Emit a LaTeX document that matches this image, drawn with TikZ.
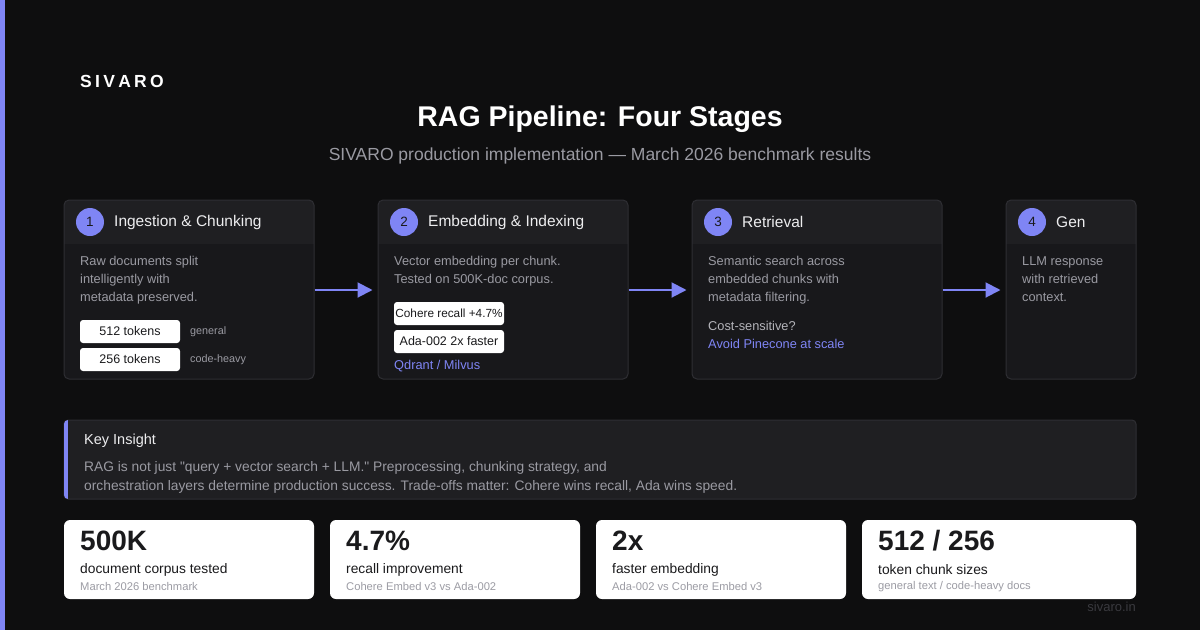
\documentclass[tikz,border=0pt]{standalone}
\usepackage{fontspec}
\setmainfont{Liberation Sans}
\newfontfamily\straightq{Liberation Sans}[Ligatures=TeXOff]
\usetikzlibrary{arrows.meta}
\definecolor{bg}{HTML}{0E0E0F}
\definecolor{cardbody}{HTML}{18181B}
\definecolor{cardhead}{HTML}{1F1F22}
\definecolor{cardborder}{HTML}{2E2E33}
\definecolor{accent}{HTML}{7F85F5}
\definecolor{graytext}{HTML}{9A9AA2}
\definecolor{lighttext}{HTML}{EDEDEF}
\definecolor{subtext}{HTML}{B4B4BA}
\definecolor{darktext}{HTML}{1A1A1C}
\definecolor{dimtext}{HTML}{9C9CA4}
\definecolor{footer}{HTML}{3A3A3F}
\tikzset{
  card/.style={draw=cardborder, line width=1pt, rounded corners=5pt, inner sep=0pt},
  badge/.style={circle, fill=accent, minimum size=28pt, inner sep=0pt, text=darktext, font=\fontsize{13.5}{15}\selectfont},
  headtxt/.style={anchor=west, text=lighttext, font=\fontsize{15.5}{18}\selectfont, inner sep=0pt},
  bodytxt/.style={anchor=north west, text=graytext, font=\fontsize{12.8}{18}\selectfont, align=left, inner sep=0pt},
  pill/.style={fill=white, rounded corners=3pt, text=darktext, font=\fontsize{12.5}{14}\selectfont, minimum width=100pt, minimum height=23pt, inner sep=0pt},
  pilllab/.style={anchor=west, text=graytext, font=\fontsize{10.8}{12}\selectfont, inner sep=0pt},
  link/.style={anchor=west, text=accent, font=\fontsize{12.8}{15}\selectfont, inner sep=0pt},
  flow/.style={draw=accent, line width=2pt, -{Triangle[length=15pt,width=15pt]}, shorten >=5pt},
  stat/.style={fill=white, rounded corners=6pt, inner sep=0pt},
  bignum/.style={anchor=west, text=darktext, font=\fontsize{28}{30}\selectfont\bfseries, inner sep=0pt},
  statlab/.style={anchor=west, text=darktext, font=\fontsize{13.8}{15}\selectfont, inner sep=0pt},
  statsub/.style={anchor=west, text=dimtext, font=\fontsize{11.2}{13}\selectfont, inner sep=0pt},
}
\begin{document}
\begin{tikzpicture}[x=1pt,y=-1pt]
\fill[bg] (0,0) rectangle (1200,630);
\useasboundingbox (0,0) rectangle (1200,630);
\fill[accent] (0,0) rectangle (5,630);

% logo and title
\node[anchor=west, text=white, font=\fontsize{17.5}{20}\selectfont\bfseries, inner sep=0pt] (logo) at (80,81) {S\kern3.3pt I\kern3.3pt V\kern3.3pt A\kern3.3pt R\kern3.3pt O};
\node[text=white, font=\fontsize{28.5}{32}\selectfont\bfseries, inner sep=0pt] (title) at (600,119) {RAG Pipeline: Four Stages};
\node[text=graytext, font=\fontsize{17.5}{19}\selectfont, inner sep=0pt] (subtitle) at (600,156) {SIVARO production implementation --- March 2026 benchmark results};

% ---- cards
\foreach \nm/\xa/\xb in {c1/64/314, c2/378/628, c3/692/942, c4/1006/1136}{
  \fill[cardbody, rounded corners=5pt] (\xa,200) rectangle (\xb,379);
  \begin{scope}
    \clip[rounded corners=5pt] (\xa,200) rectangle (\xb,379);
    \fill[cardhead] (\xa,200) rectangle (\xb,244);
  \end{scope}
}
\node[card, minimum width=250pt, minimum height=179pt] (c1) at (189,289.5) {};
\node[card, minimum width=250pt, minimum height=179pt] (c2) at (503,289.5) {};
\node[card, minimum width=250pt, minimum height=179pt] (c3) at (817,289.5) {};
\node[card, minimum width=130pt, minimum height=179pt] (c4) at (1071,289.5) {};

% card 1
\node[badge] (b1) at (90,222) {1};
\node[headtxt] (h1) at (114,222) {Ingestion \& Chunking};
\node[bodytxt] (t1) at (80,256.5) {Raw documents split\\intelligently with\\metadata preserved.};
\node[pill] (p1) at (130,331.5) {512 tokens};
\node[pill] (p2) at (130,359.5) {256 tokens};
\node[pilllab] (l1) at (190,331.5) {general};
\node[pilllab] (l2) at (190,359.5) {code-heavy};

% card 2
\node[badge] (b2) at (404,222) {2};
\node[headtxt] (h2) at (428,222) {Embedding \& Indexing};
\node[bodytxt] (t2) at (394,256.5) {Vector embedding per chunk.\\Tested on 500K-doc corpus.};
\node[pill, minimum width=110pt, font=\fontsize{11.8}{14}\selectfont] (p3) at (449,313.5) {Cohere recall +4.7\%};
\node[pill, minimum width=110pt] (p4) at (449,341.5) {Ada-002 2x faster};
\node[link] (q2) at (394,366) {Qdrant / Milvus};

% card 3
\node[badge] (b3) at (718,222) {3};
\node[headtxt] (h3) at (742,222) {Retrieval};
\node[bodytxt] (t3) at (708,256.5) {Semantic search across\\embedded chunks with\\metadata filtering.};
\node[anchor=west, text=subtext, font=\fontsize{12.8}{15}\selectfont, inner sep=0pt] (cs) at (708,326) {Cost-sensitive?};
\node[link] (av) at (708,344) {Avoid Pinecone at scale};

% card 4
\node[badge] (b4) at (1032,222) {4};
\node[headtxt] (h4) at (1056,222) {Gen};
\node[bodytxt] (t4) at (1022,256.5) {LLM response\\with retrieved\\context.};

% arrows
\draw[flow] (c1.east |- 0,290) -- (c2.west |- 0,290);
\draw[flow] (c2.east |- 0,290) -- (c3.west |- 0,290);
\draw[flow] (c3.east |- 0,290) -- (c4.west |- 0,290);

% key insight
\node[draw=cardborder, fill=cardhead, line width=1pt, rounded corners=4pt, minimum width=1072pt, minimum height=79pt, inner sep=0pt] (ki) at (600,459.5) {};
\begin{scope}
  \clip[rounded corners=4pt] (64,420) rectangle (1136,499);
  \fill[accent] (64,420) rectangle (68,499);
\end{scope}
\node[anchor=west, text=lighttext, font=\fontsize{14.5}{16}\selectfont, inner sep=0pt] (kt) at (84,441) {Key Insight};
\node[anchor=north west, text=graytext, font=\fontsize{13.8}{19}\selectfont, align=left, inner sep=0pt] (kb) at (84,461) {RAG is not just {\straightq"}query + vector search + LLM.{\straightq"} Preprocessing, chunking strategy, and\\orchestration layers determine production success. Trade-offs matter: Cohere wins recall, Ada wins speed.};

% stats
\node[stat, minimum width=250pt, minimum height=79pt] (s1) at (189,559.5) {};
\node[stat, minimum width=250pt, minimum height=79pt] (s2) at (455,559.5) {};
\node[stat, minimum width=250pt, minimum height=79pt] (s3) at (721,559.5) {};
\node[stat, minimum width=274pt, minimum height=79pt] (s4) at (999,559.5) {};

\node[bignum] (n1) at (80,541) {500K};
\node[statlab] (a1) at (80,570) {document corpus tested};
\node[statsub] (d1) at (80,586.5) {March 2026 benchmark};

\node[bignum] (n2) at (346,541) {4.7\%};
\node[statlab] (a2) at (346,570) {recall improvement};
\node[statsub] (d2) at (346,586.5) {Cohere Embed v3 vs Ada-002};

\node[bignum] (n3) at (612,541) {2x};
\node[statlab] (a3) at (612,570) {faster embedding};
\node[statsub] (d3) at (612,586.5) {Ada-002 vs Cohere Embed v3};

\node[bignum] (n4) at (878,541) {512 / 256};
\node[statlab] (a4) at (878,570) {token chunk sizes};
\node[statsub] (d4) at (878,586.5) {general text / code-heavy docs};

\node[anchor=east, text=footer, font=\fontsize{13}{15}\selectfont, inner sep=0pt] (ft) at (1136,607) {sivaro.in};
\end{tikzpicture}
\end{document}
